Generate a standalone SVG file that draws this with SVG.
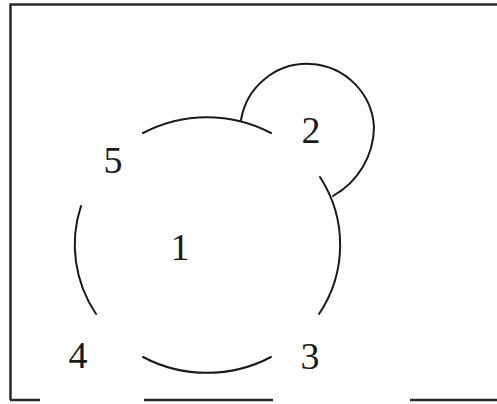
<svg xmlns="http://www.w3.org/2000/svg" width="497" height="404" viewBox="0 0 497 404">
  <style>
    .frame { stroke: #2a2a2a; stroke-width: 2.5; fill: none; }
    .edge { stroke: #1a1a1a; stroke-width: 2; fill: none; stroke-linecap: round; }
    .lbl { font-family: "Liberation Serif", "Times New Roman", serif; font-size: 38px; fill: #1a1a1a; text-anchor: middle; }
  </style>
  <rect width="497" height="404" fill="#ffffff"/>
  <g id="frame">
    <path class="frame" d="M497,4.5 H10.5 V400"/>
    <path class="frame" d="M10,400 H40 M144,400 H273 M410,400 H497"/>
  </g>
  <g id="connectors">
    <path class="edge" d="M143,133 A133,128 0 0 1 271,133"/>
    <path class="edge" d="M320,177 A133,128 0 0 1 319,314"/>
    <path class="edge" d="M271,357 A133,128 0 0 1 143,357"/>
    <path class="edge" d="M96,314 A133,128 0 0 1 81,206"/>
    <path class="edge" d="M241,120 A67,67 0 0 1 374,127 A80,80 0 0 1 333,196"/>
  </g>
  <g id="node-1"><text class="lbl" x="180" y="260">1</text></g>
  <g id="node-2"><text class="lbl" x="311" y="143">2</text></g>
  <g id="node-3"><text class="lbl" x="310" y="369">3</text></g>
  <g id="node-4"><text class="lbl" x="78" y="368">4</text></g>
  <g id="node-5"><text class="lbl" x="113" y="173">5</text></g>
</svg>
